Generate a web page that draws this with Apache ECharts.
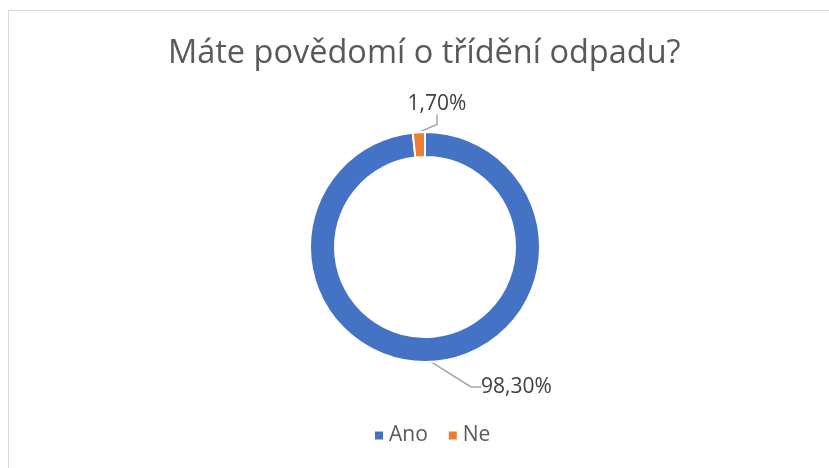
<!DOCTYPE html>
<html>
<head>
<meta charset="utf-8">
<script src="https://cdn.jsdelivr.net/npm/echarts@6/dist/echarts.min.js"></script>
<style>
  html, body { margin: 0; padding: 0; background: #fff; }
  #frame { position: absolute; left: 8px; top: 10px; width: 900px; height: 520px; border: 1px solid #d9d9d9; box-sizing: border-box; }
  #chart { position: absolute; left: 0; top: 0; width: 829px; height: 468px; }
</style>
</head>
<body>
<div id="frame"></div>
<div id="chart"></div>
<script>
const titleText = 'Máte povědomí o třídění odpadu?'
const categories = ['Ano', 'Ne']
const values = [98.3, 1.7]
const colors = ['#4472c4', '#ed7d31']

const fontFamily = '"Open Sans", "Noto Sans", sans-serif'

const chart = echarts.init(document.getElementById('chart'), null, { renderer: 'canvas' })

const option = {
  animation: false,
  title: {
    text: titleText,
    left: 163,
    top: 32,
    textStyle: {
      color: '#595959',
      fontFamily: fontFamily,
      fontWeight: 'normal',
      fontSize: 32.5
    }
  },
  legend: {
    data: categories,
    bottom: 17,
    left: 368,
    icon: 'rect',
    itemWidth: 10,
    itemHeight: 10,
    itemGap: 19,
    textStyle: {
      color: '#595959',
      fontFamily: fontFamily,
      fontSize: 21,
      padding: [0, 0, 0, 0]
    }
  },
  series: [
    {
      type: 'pie',
      center: [425, 247],
      radius: [90, 115],
      startAngle: 90,
      clockwise: true,
      itemStyle: {
        borderColor: '#fff',
        borderWidth: 2
      },
      label: {
        show: true,
        position: 'outside',
        color: '#404040',
        fontFamily: fontFamily,
        fontSize: 21,
        formatter: function (p) {
          return p.value.toFixed(2).replace('.', ',') + '%'
        }
      },
      labelLine: {
        show: true,
        length: 12,
        length2: 10,
        lineStyle: { color: '#a6a6a6', width: 1.5 }
      },
      labelLayout: function (p) {
        // posuny popisků jako v originále
        if (p.dataIndex === 1) {
          return { x: 437, y: 104, align: 'center', verticalAlign: 'middle' }
        }
        return { x: 481, y: 387, align: 'left', verticalAlign: 'middle' }
      },
      data: categories.map(function (c, i) {
        return { name: c, value: values[i], itemStyle: { color: colors[i] } }
      })
    }
  ]
}

chart.setOption(option)
</script>
</body>
</html>
